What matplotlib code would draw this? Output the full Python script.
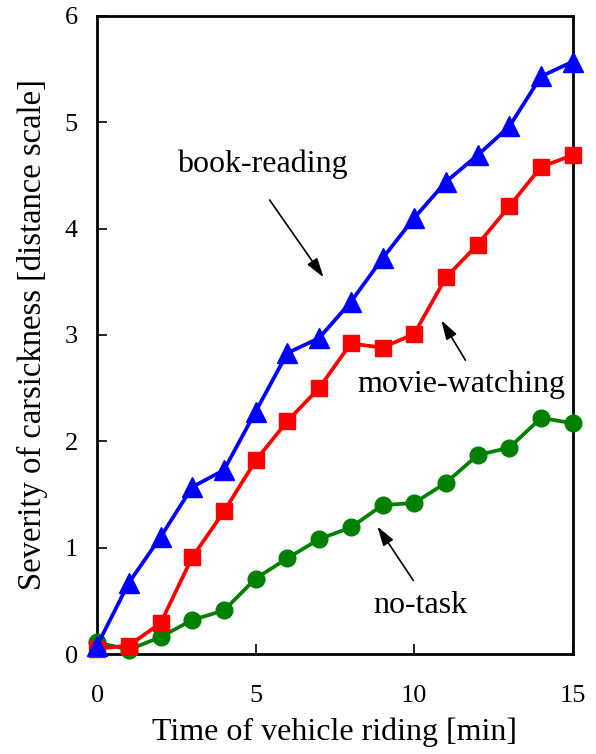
import numpy as np
import matplotlib
matplotlib.use("Agg")
import matplotlib.pyplot as plt

plt.rcParams['font.family'] = ['Liberation Serif', 'DejaVu Serif']

minutes = list(range(16))
book_reading = [0.08, 0.67, 1.10, 1.57, 1.73, 2.28, 2.83, 2.97, 3.31, 3.72,
                4.10, 4.44, 4.69, 4.96, 5.43, 5.57]
movie_watching = [0.05, 0.08, 0.29, 0.91, 1.34, 1.82, 2.19, 2.50, 2.92, 2.88,
                  3.01, 3.54, 3.85, 4.21, 4.58, 4.69]
no_task = [0.11, 0.04, 0.16, 0.32, 0.41, 0.71, 0.90, 1.08, 1.19, 1.40,
           1.42, 1.61, 1.87, 1.94, 2.22, 2.17]

fig = plt.figure(figsize=(5.96, 7.54), dpi=100)
ax = fig.add_axes([0.163, 0.1326, 0.798, 0.8464])

ax.plot(minutes, no_task, color="green", lw=2.7, marker="o", ms=12, clip_on=False, zorder=3)
ax.plot(minutes, movie_watching, color="red", lw=2.7, marker="s", ms=12, clip_on=False, zorder=4)
ax.plot(minutes, book_reading, color="blue", lw=2.7, marker="^", ms=15, clip_on=False, zorder=5)

arrow = dict(arrowstyle="-|>,head_width=0.2,head_length=0.65", color="black", lw=1.2, mutation_scale=18)
ax.annotate("", xy=(7.19, 3.52), xytext=(5.39, 4.29), arrowprops=arrow)
ax.text(5.2, 4.6, "book-reading", fontsize=23, ha="center", va="center")
ax.annotate("", xy=(10.81, 3.16), xytext=(11.66, 2.74), arrowprops=arrow)
ax.text(11.5, 2.53, "movie-watching", fontsize=23, ha="center", va="center")
ax.annotate("", xy=(8.79, 1.22), xytext=(10.02, 0.67), arrowprops=arrow)
ax.text(10.18, 0.46, "no-task", fontsize=23, ha="center", va="center")

ax.set_xlim(0, 15)
ax.set_ylim(0, 6)
ax.set_xticks([0, 5, 10, 15])
ax.set_yticks(range(7))
ax.tick_params(direction="in", length=7, width=1.2, labelsize=19)
ax.tick_params(axis="x", pad=22)
ax.tick_params(axis="y", pad=14)
for s in ax.spines.values():
    s.set_linewidth(2)
ax.set_xlabel("Time of vehicle riding [min]", fontsize=23, labelpad=8)
ax.set_ylabel("Severity of carsickness [distance scale]", fontsize=23.5, labelpad=12)

fig.savefig("out.png", dpi=100)
